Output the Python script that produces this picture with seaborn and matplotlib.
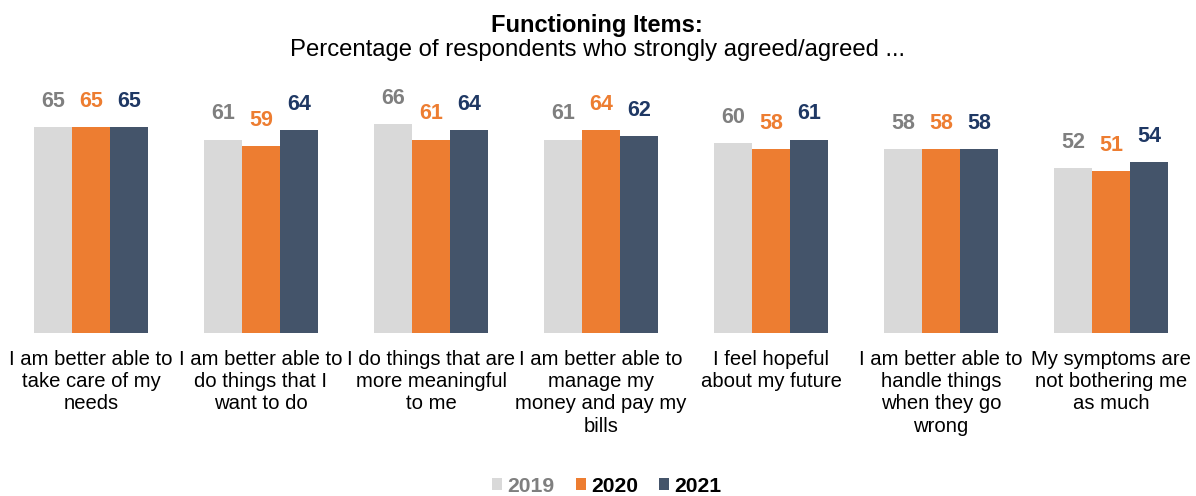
import matplotlib
matplotlib.use("Agg")
import matplotlib.pyplot as plt
import seaborn as sns
import pandas as pd
from matplotlib.patches import Patch

categories = [
    "I am better able to\ntake care of my\nneeds",
    "I am better able to\ndo things that I\nwant to do",
    "I do things that are\nmore meaningful\nto me",
    "I am better able to\nmanage my\nmoney and pay my\nbills",
    "I feel hopeful\nabout my future",
    "I am better able to\nhandle things\nwhen they go\nwrong",
    "My symptoms are\nnot bothering me\nas much",
]
years = ["2019", "2020", "2021"]
values_2019 = [65, 61, 66, 61, 60, 58, 52]
values_2020 = [65, 59, 61, 64, 58, 58, 51]
values_2021 = [65, 64, 64, 62, 61, 58, 54]

bar_colors = ["#D9D9D9", "#ED7D31", "#44546A"]
label_colors = ["#7F7F7F", "#ED7D31", "#1F3864"]
legend_text_colors = ["#7F7F7F", "#000000", "#000000"]

rows = []
for year, vals in zip(years, [values_2019, values_2020, values_2021]):
    for cat, v in zip(categories, vals):
        rows.append({"item": cat, "year": year, "pct": v})
df = pd.DataFrame(rows)

sns.set_theme(style="white")
plt.rcParams["font.family"] = ["Liberation Sans", "DejaVu Sans"]

fig = plt.figure(figsize=(11.96, 4.96), dpi=100)
ax = fig.add_axes([6 / 1196, 163 / 496, 1190 / 1196, 253.6 / 496])

sns.barplot(data=df, x="item", y="pct", hue="year", order=categories,
            hue_order=years, palette=bar_colors, width=0.67, gap=0,
            saturation=1, linewidth=0, legend=False, ax=ax)

for container, col in zip(ax.containers, label_colors):
    ax.bar_label(container, fmt="%d", padding=11, color=col,
                 fontsize=15.5, fontweight="bold")

ax.set_ylim(0, 80)
ax.set_xlim(-0.5, len(categories) - 0.5)
ax.set_xlabel("")
ax.set_ylabel("")
ax.set_yticks([])
ax.tick_params(axis="x", length=0, pad=12, labelsize=14.6, colors="#000000")
for lbl in ax.get_xticklabels():
    lbl.set_linespacing(1.22)
    lbl.set_verticalalignment("top")
for s in ax.spines.values():
    s.set_visible(False)

fig.text(597 / 1196, 1 - 32 / 496, "Functioning Items:", ha="center", va="baseline",
         fontsize=17, fontweight="bold", color="#000000")
fig.text(597 / 1196, 1 - 56 / 496, "Percentage of respondents who strongly agreed/agreed ...",
         ha="center", va="baseline", fontsize=17.2, color="#000000")

handles = [Patch(facecolor=c, edgecolor="none") for c in bar_colors]
leg = fig.legend(handles, years, loc="center", bbox_to_anchor=(607 / 1196, 1 - 486 / 496),
                 ncol=3, frameon=False, handlelength=0.48, handleheight=0.48,
                 handletextpad=0.25, columnspacing=1.0, borderpad=0,
                 prop={"size": 15.2, "weight": "bold"})
for t, c in zip(leg.get_texts(), legend_text_colors):
    t.set_color(c)

fig.savefig("out.png", dpi=100, facecolor="white")
